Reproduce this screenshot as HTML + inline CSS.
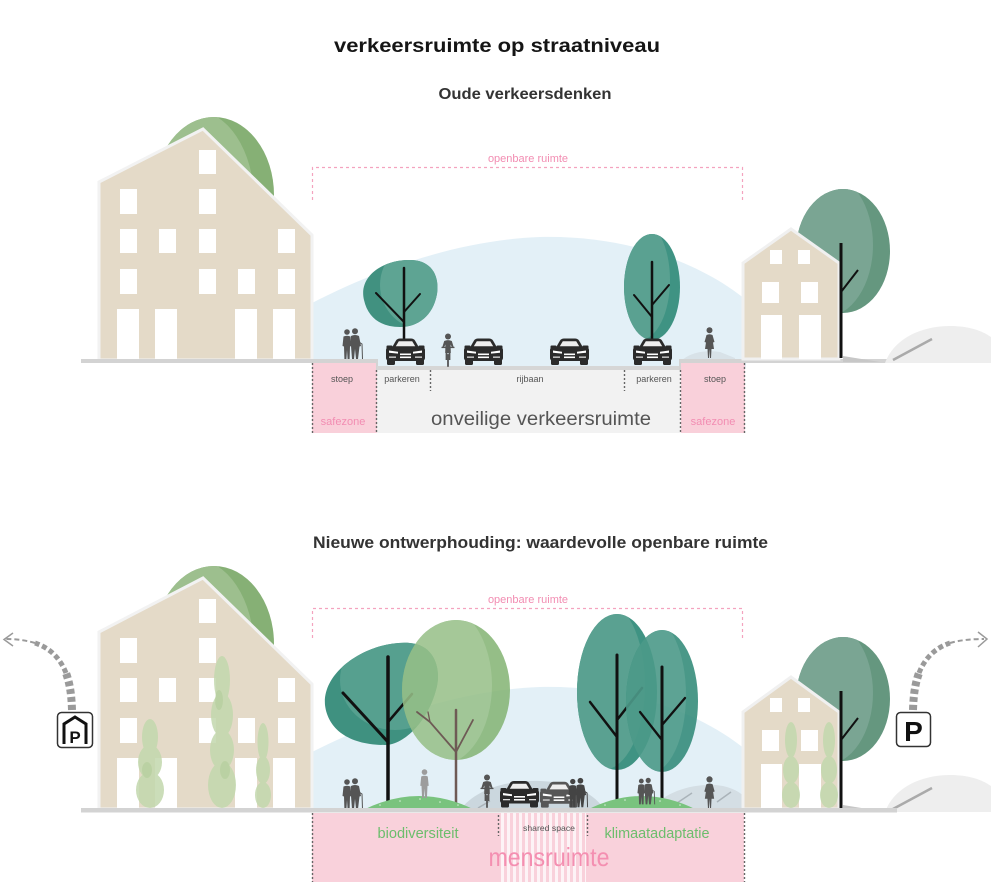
<!DOCTYPE html>
<html><head><meta charset="utf-8"><style>
html,body{margin:0;padding:0;background:#fff;overflow:hidden}
svg{display:block}
text{font-family:"Liberation Sans",Arial,sans-serif}
</style></head><body>
<svg width="991" height="885" viewBox="0 0 991 885" xmlns="http://www.w3.org/2000/svg">
<defs>
<symbol id="car" viewBox="0 0 43 27">
 <g fill="currentColor">
 <path d="M8,9.5 L12,2.5 Q13.5,0.5 16,0.5 L27,0.5 Q29.5,0.5 31,2.5 L35,9.5 Z"/>
 <rect x="2.5" y="7.5" width="6" height="3.5" rx="1"/>
 <rect x="34.5" y="7.5" width="6" height="3.5" rx="1"/>
 <rect x="2" y="9" width="39" height="14" rx="3"/>
 <rect x="3" y="20" width="8" height="7" rx="1.2"/>
 <rect x="32" y="20" width="8" height="7" rx="1.2"/>
 </g>
 <path d="M11.8,8.3 L14.8,3.3 L28.2,3.3 L31.2,8.3 Z" fill="#eeeeee"/>
 <path d="M5,12.5 L14,13.8 L14,15.6 L5,14.8 Z" fill="#fff"/>
 <path d="M38,12.5 L29,13.8 L29,15.6 L38,14.8 Z" fill="#fff"/>
 <rect x="16" y="15.5" width="11" height="1.6" fill="#fff"/>
 <rect x="16" y="18.5" width="11" height="1.6" fill="#fff"/>
 <rect x="5" y="18.5" width="7" height="1.3" fill="#ddd"/>
 <rect x="31" y="18.5" width="7" height="1.3" fill="#ddd"/>
</symbol>
<symbol id="couple" viewBox="0 0 22 31">
 <g fill="currentColor">
 <circle cx="5" cy="4" r="2.8"/>
 <path d="M1.5,8.5 Q5,7 8.5,8.5 L9.5,18 L8,18.5 L7.6,31 L5.6,31 L5,22 L4.4,31 L2.4,31 L2,18.5 L0.5,18 Z"/>
 <circle cx="13" cy="3.2" r="3"/>
 <path d="M9,8 Q13,6 17,8 L19,18 L17.5,18.5 L16,31 L14,31 L13,21 L12,31 L10,31 L9,18 Z"/>
 </g>
 <path d="M17,14 L20,16 L20.5,31" stroke="currentColor" stroke-width="1" fill="none"/>
</symbol>
<symbol id="woman" viewBox="0 0 11 31">
 <g fill="currentColor">
 <circle cx="5.5" cy="3.3" r="3"/>
 <path d="M2.5,8 Q5.5,6.5 8.5,8 L10.5,15 L9,15.5 L8.5,12 L10,22 L7.5,22 L7,31 L6,31 L5.5,22 L5,31 L4,31 L3.5,22 L1,22 L2.5,12 L2,15.5 L0.5,15 Z"/>
 </g>
</symbol>
<symbol id="person" viewBox="0 0 10 31">
 <g fill="currentColor">
 <circle cx="5" cy="3.3" r="3"/>
 <path d="M1.5,8 Q5,6.5 8.5,8 L9.5,18 L8.2,18 L7.6,31 L5.6,31 L5,21 L4.4,31 L2.4,31 L1.8,18 L0.5,18 Z"/>
 </g>
</symbol>
<symbol id="cyc" viewBox="0 0 14 34">
 <g fill="currentColor">
 <circle cx="7" cy="3.5" r="3"/>
 <path d="M3.2,8 Q7,6.3 10.8,8 L12.8,14.5 L11.2,15 L9.6,11.5 L9.8,20 L4.2,20 L4.4,11.5 L2.8,15 L1.2,14.5 Z"/>
 <rect x="0.5" y="13.8" width="13" height="1.3"/>
 <rect x="4.6" y="19" width="1.8" height="8"/>
 <rect x="7.6" y="19" width="1.8" height="8"/>
 <rect x="6.1" y="21" width="1.8" height="13" rx="0.9"/>
 </g>
</symbol>
<clipPath id="cL1"><ellipse cx="214" cy="195" rx="60" ry="78"/></clipPath>
<clipPath id="cL2"><ellipse cx="214" cy="644" rx="60" ry="78"/></clipPath>
<clipPath id="cR1"><ellipse cx="843" cy="251" rx="47" ry="62"/></clipPath>
<clipPath id="cR2"><ellipse cx="843" cy="699" rx="47" ry="62"/></clipPath>
<clipPath id="cTT"><ellipse cx="652" cy="287" rx="28" ry="53"/></clipPath>
<clipPath id="cTB"><path d="M364,300 C358,275 385,260 408,260 C430,259 440,274 437,294 C433,316 418,327 400,327 C381,327 368,318 364,300 Z"/></clipPath>
<clipPath id="cA"><path d="M325,705 C322,670 370,640 410,643 C435,645 442,670 436,690 C428,720 405,745 385,745 C350,745 328,730 325,705 Z"/></clipPath>
<clipPath id="cB"><ellipse cx="456" cy="690" rx="54" ry="70"/></clipPath>
<clipPath id="cC"><ellipse cx="617" cy="692" rx="40" ry="78"/></clipPath>
<clipPath id="cD"><ellipse cx="662" cy="701" rx="36" ry="71"/></clipPath>
<pattern id="stripes" x="500" y="0" width="6" height="10" patternUnits="userSpaceOnUse">
 <rect x="0" y="0" width="6" height="10" fill="#f9d1db"/>
 <rect x="1" y="0" width="3" height="10" fill="#fdf3f6"/>
</pattern>
</defs>

<!-- Headings -->
<text x="497" y="52" font-size="19" font-weight="bold" fill="#151515" text-anchor="middle" textLength="326" lengthAdjust="spacingAndGlyphs">verkeersruimte op straatniveau</text>
<text x="525" y="99" font-size="16" font-weight="bold" fill="#333" text-anchor="middle" textLength="173" lengthAdjust="spacingAndGlyphs">Oude verkeersdenken</text>
<text x="540.5" y="548" font-size="17" font-weight="bold" fill="#333" text-anchor="middle" textLength="455" lengthAdjust="spacingAndGlyphs">Nieuwe ontwerphouding: waardevolle openbare ruimte</text>

<!-- ================= TOP SCENE ================= -->
<text x="528" y="162" font-size="11" fill="#f28db2" text-anchor="middle">openbare ruimte</text>
<path d="M312.5,200 L312.5,167.5 L742.5,167.5 L742.5,200" fill="none" stroke="#f4a3bf" stroke-width="1.2" stroke-dasharray="3,3"/>

<path d="M312,303 C380,268 460,240 540,237 C625,235 700,262 746,300 L746,367 L312,367 Z" fill="#e3f0f7"/>
<path d="M680,362 C690,352 705,350 720,352 L735,358 L735,362 Z" fill="#d8e2e8"/>

<ellipse cx="214" cy="195" rx="60" ry="78" fill="#86b075"/>
<ellipse cx="194" cy="200" rx="60" ry="90" fill="#9dbf8e" clip-path="url(#cL1)"/>
<polygon points="99,182 203,129 312,235 312,360 99,360" fill="#e4dac8" stroke="#f2f2f2" stroke-width="3"/>
<g fill="#fff">
 <rect x="199" y="150" width="17" height="24"/>
 <rect x="120" y="189" width="17" height="25"/><rect x="199" y="189" width="17" height="25"/>
 <rect x="120" y="229" width="17" height="24"/><rect x="159" y="229" width="17" height="24"/><rect x="199" y="229" width="17" height="24"/><rect x="278" y="229" width="17" height="24"/>
 <rect x="120" y="269" width="17" height="25"/><rect x="199" y="269" width="17" height="25"/><rect x="238" y="269" width="17" height="25"/><rect x="278" y="269" width="17" height="25"/>
 <rect x="117" y="309" width="22" height="50"/><rect x="155" y="309" width="22" height="50"/><rect x="235" y="309" width="22" height="50"/><rect x="273" y="309" width="22" height="50"/>
</g>

<path d="M364,300 C358,275 385,260 408,260 C430,259 440,274 437,294 C433,316 418,327 400,327 C381,327 368,318 364,300 Z" fill="#419180"/>
<ellipse cx="425" cy="285" rx="45" ry="45" fill="#5ea493" clip-path="url(#cTB)"/>
<g stroke="#111" fill="none" stroke-linecap="round">
 <path d="M404,340 L404,268" stroke-width="2.5"/>
 <path d="M404,322 L376,293" stroke-width="2"/>
 <path d="M404,312 L420,294" stroke-width="2"/>
</g>
<ellipse cx="652" cy="287" rx="28" ry="53" fill="#3f9383"/>
<ellipse cx="640" cy="280" rx="30" ry="60" fill="#5aa191" clip-path="url(#cTT)"/>
<g stroke="#111" fill="none" stroke-linecap="round">
 <path d="M652,340 L652,262" stroke-width="2.5"/>
 <path d="M652,317 L634,295" stroke-width="2"/>
 <path d="M652,305 L669,285" stroke-width="2"/>
</g>

<rect x="312" y="363" width="65" height="70" fill="#f9d0da"/>
<rect x="681" y="363" width="64" height="70" fill="#f9d0da"/>
<rect x="377" y="370" width="304" height="63" fill="#f2f2f2"/>
<rect x="81" y="359" width="297" height="4" fill="#d3d3d3"/>
<rect x="376" y="359" width="2" height="11" fill="#d3d3d3"/>
<rect x="377" y="366" width="304" height="4" fill="#d6d6d6"/>
<rect x="679" y="359" width="2" height="11" fill="#d3d3d3"/>
<rect x="680" y="359" width="217" height="4" fill="#d3d3d3"/>
<g stroke="#666" stroke-width="1.4" stroke-dasharray="2,2">
 <path d="M312.5,363 L312.5,433"/><path d="M376.5,370 L376.5,433"/>
 <path d="M680.5,370 L680.5,433"/><path d="M744.5,363 L744.5,433"/>
 <path d="M430.5,370 L430.5,391"/><path d="M624.5,370 L624.5,391"/>
</g>
<g font-size="9" fill="#555" text-anchor="middle">
 <text x="342" y="382">stoep</text>
 <text x="402" y="382">parkeren</text>
 <text x="530" y="382">rijbaan</text>
 <text x="654" y="382">parkeren</text>
 <text x="715" y="382">stoep</text>
</g>
<g font-size="11" fill="#f28db2" text-anchor="middle">
 <text x="343" y="425">safezone</text>
 <text x="713" y="425">safezone</text>
</g>
<text x="541" y="425" font-size="19" fill="#555" text-anchor="middle" textLength="220" lengthAdjust="spacingAndGlyphs">onveilige verkeersruimte</text>

<use href="#car" x="384" y="338" width="43" height="27" color="#2b2b2b"/>
<use href="#car" x="462" y="338" width="43" height="27" color="#2b2b2b"/>
<use href="#car" x="548" y="338" width="43" height="27" color="#2b2b2b"/>
<use href="#car" x="631" y="338" width="43" height="27" color="#2b2b2b"/>
<use href="#couple" x="342" y="328" width="22" height="31" color="#555"/>
<use href="#cyc" x="441" y="333" width="14" height="34" color="#555"/>
<use href="#woman" x="704" y="327" width="11" height="31" color="#555"/>

<ellipse cx="843" cy="251" rx="47" ry="62" fill="#65977f"/>
<ellipse cx="825" cy="245" rx="48" ry="72" fill="#7aa593" clip-path="url(#cR1)"/>
<polygon points="743,263 791,229 839,263 839,359 743,359" fill="#e4dac8" stroke="#f0f0f0" stroke-width="3"/>
<g fill="#fff">
 <rect x="770" y="250" width="12" height="14"/><rect x="798" y="250" width="12" height="14"/>
 <rect x="762" y="282" width="17" height="21"/><rect x="801" y="282" width="17" height="21"/>
 <rect x="761" y="315" width="21" height="44"/><rect x="799" y="315" width="22" height="44"/>
</g>
<path d="M841,358 L841,243" stroke="#111" stroke-width="3"/>
<path d="M841,292 L858,270" stroke="#111" stroke-width="2"/>
<path d="M843,356 L880,362 L843,362 Z" fill="#c7c7c7"/>
<path d="M885,363 C895,336 925,326 950,326 C975,326 990,334 1000,345 L1000,363 Z" fill="#eeeeee"/>
<path d="M893,360 L932,339" stroke="#aaa" stroke-width="2.5"/>

<!-- ================= BOTTOM SCENE ================= -->
<text x="528" y="603" font-size="11" fill="#f28db2" text-anchor="middle">openbare ruimte</text>
<path d="M312.5,638 L312.5,608.5 L742.5,608.5 L742.5,638" fill="none" stroke="#f4a3bf" stroke-width="1.2" stroke-dasharray="3,3"/>

<path d="M312,752 C380,718 460,690 540,687 C625,685 700,712 746,750 L746,810 L312,810 Z" fill="#e3f0f7"/>
<path d="M460,810 C475,790 505,780 540,781 C575,782 595,795 605,810 Z" fill="#cbd7de"/>
<path d="M650,810 C665,792 690,784 715,785 C730,786 740,792 746,798 L746,810 Z" fill="#d4dee4"/>
<path d="M677,803 L692,793 M717,802 L731,792 M478,808 L490,801" stroke="#aab3b9" stroke-width="1.5"/>

<ellipse cx="214" cy="644" rx="60" ry="78" fill="#86b075"/>
<ellipse cx="194" cy="649" rx="60" ry="90" fill="#9dbf8e" clip-path="url(#cL2)"/>
<polygon points="99,632 203,578 312,684 312,809 99,809" fill="#e4dac8" stroke="#f2f2f2" stroke-width="3"/>
<g fill="#fff">
 <rect x="199" y="599" width="17" height="24"/>
 <rect x="120" y="638" width="17" height="25"/><rect x="199" y="638" width="17" height="25"/>
 <rect x="120" y="678" width="17" height="24"/><rect x="159" y="678" width="17" height="24"/><rect x="199" y="678" width="17" height="24"/><rect x="278" y="678" width="17" height="24"/>
 <rect x="120" y="718" width="17" height="25"/><rect x="199" y="718" width="17" height="25"/><rect x="238" y="718" width="17" height="25"/><rect x="278" y="718" width="17" height="25"/>
 <rect x="117" y="758" width="22" height="51"/><rect x="155" y="758" width="22" height="51"/><rect x="235" y="758" width="22" height="51"/><rect x="273" y="758" width="22" height="51"/>
</g>
<g fill="#c3d8ad" opacity="0.85">
 <ellipse cx="150" cy="737" rx="8" ry="18"/><ellipse cx="150" cy="762" rx="12" ry="17"/><ellipse cx="150" cy="790" rx="14" ry="18"/>
 <ellipse cx="222" cy="680" rx="8" ry="24"/><ellipse cx="222" cy="715" rx="11" ry="22"/><ellipse cx="222" cy="750" rx="12" ry="20"/><ellipse cx="222" cy="785" rx="14" ry="23"/>
 <ellipse cx="263" cy="742" rx="5.5" ry="19"/><ellipse cx="263" cy="770" rx="7" ry="14"/><ellipse cx="263" cy="795" rx="8" ry="13"/>
</g>
<g fill="#afcb96" opacity="0.5">
 <ellipse cx="147" cy="770" rx="5" ry="8"/><ellipse cx="219" cy="700" rx="4" ry="10"/><ellipse cx="225" cy="770" rx="5" ry="9"/>
</g>

<path d="M325,705 C322,670 370,640 410,643 C435,645 442,670 436,690 C428,720 405,745 385,745 C350,745 328,730 325,705 Z" fill="#3f9180"/>
<ellipse cx="395" cy="680" rx="55" ry="50" fill="#56a08f" clip-path="url(#cA)"/>
<g stroke="#111" fill="none" stroke-linecap="round">
 <path d="M388,809 L388,657" stroke-width="3.5"/>
 <path d="M388,742 L343,693" stroke-width="3"/>
 <path d="M388,722 L412,694" stroke-width="2.5"/>
</g>
<g opacity="0.86">
<ellipse cx="456" cy="690" rx="54" ry="70" fill="#84b474"/>
<ellipse cx="440" cy="685" rx="52" ry="80" fill="#97c088" clip-path="url(#cB)"/>
</g>
<g stroke="#6e5a55" fill="none" stroke-linecap="round">
 <path d="M456,809 L456,710" stroke-width="2.5"/>
 <path d="M456,752 L430,722 L417,712" stroke-width="1.8"/>
 <path d="M430,722 L428,712" stroke-width="1.3"/>
 <path d="M456,752 L473,720" stroke-width="1.8"/>
</g>
<ellipse cx="617" cy="692" rx="40" ry="78" fill="#3f9383"/>
<ellipse cx="603" cy="685" rx="42" ry="85" fill="#5aa191" clip-path="url(#cC)"/>
<g stroke="#111" fill="none" stroke-linecap="round">
 <path d="M617,809 L617,655" stroke-width="3"/>
 <path d="M617,737 L590,702" stroke-width="2.5"/>
 <path d="M617,720 L642,688" stroke-width="2.5"/>
</g>
<g opacity="0.9">
<ellipse cx="662" cy="701" rx="36" ry="71" fill="#378d7c"/>
<ellipse cx="650" cy="695" rx="36" ry="78" fill="#4c9a89" clip-path="url(#cD)"/>
</g>
<g stroke="#111" fill="none" stroke-linecap="round">
 <path d="M662,809 L662,667" stroke-width="3"/>
 <path d="M662,740 L640,712" stroke-width="2.3"/>
 <path d="M662,725 L685,698" stroke-width="2.3"/>
</g>
<path d="M363,810 Q419,782 475,810 Z" fill="#79c37e"/>
<path d="M587,810 Q642,782 697,810 Z" fill="#79c37e"/>
<g fill="#fff" opacity="0.7">
 <circle cx="380" cy="805" r="0.8"/><circle cx="400" cy="801" r="0.8"/><circle cx="420" cy="799" r="0.8"/><circle cx="440" cy="802" r="0.8"/><circle cx="458" cy="805" r="0.8"/>
 <circle cx="605" cy="805" r="0.8"/><circle cx="625" cy="800" r="0.8"/><circle cx="660" cy="801" r="0.8"/><circle cx="680" cy="805" r="0.8"/>
</g>

<use href="#car" x="538" y="781" width="42" height="27" color="#575757"/>
<use href="#car" x="498" y="780" width="43" height="28" color="#2b2b2b"/>
<use href="#couple" x="342" y="778" width="22" height="31" color="#555"/>
<use href="#person" x="419" y="769" width="11" height="29" color="#9c9c9c"/>
<use href="#cyc" x="480" y="774" width="14" height="34" color="#555"/>
<use href="#couple" x="568" y="777" width="21" height="31" color="#444"/>
<use href="#couple" x="637" y="775" width="19" height="32" color="#555"/>
<use href="#woman" x="703" y="776" width="13" height="32" color="#555"/>

<ellipse cx="843" cy="699" rx="47" ry="62" fill="#65977f"/>
<ellipse cx="825" cy="693" rx="48" ry="72" fill="#7aa593" clip-path="url(#cR2)"/>
<polygon points="743,712 791,677 839,712 839,809 743,809" fill="#e4dac8" stroke="#f0f0f0" stroke-width="3"/>
<g fill="#fff">
 <rect x="770" y="698" width="12" height="14"/><rect x="798" y="698" width="12" height="14"/>
 <rect x="762" y="730" width="17" height="21"/><rect x="801" y="730" width="17" height="21"/>
 <rect x="761" y="764" width="21" height="45"/><rect x="799" y="764" width="22" height="45"/>
</g>
<g fill="#c3d8ad" opacity="0.85">
 <ellipse cx="791" cy="740" rx="6" ry="18"/><ellipse cx="791" cy="770" rx="8" ry="14"/><ellipse cx="791" cy="795" rx="9" ry="13"/>
 <ellipse cx="829" cy="740" rx="6" ry="18"/><ellipse cx="829" cy="770" rx="8" ry="14"/><ellipse cx="829" cy="795" rx="9" ry="13"/>
</g>
<path d="M841,808 L841,691" stroke="#111" stroke-width="3"/>
<path d="M841,740 L858,718" stroke="#111" stroke-width="2"/>
<path d="M843,805 L880,811 L843,811 Z" fill="#c7c7c7"/>
<path d="M885,812 C895,785 925,775 950,775 C975,775 990,783 1000,794 L1000,812 Z" fill="#eeeeee"/>
<path d="M893,809 L932,788" stroke="#aaa" stroke-width="2.5"/>

<rect x="81" y="808" width="816" height="4.5" fill="#d3d3d3"/>
<rect x="312" y="813" width="432" height="69" fill="#f9d1db"/>
<rect x="500" y="813" width="86" height="69" fill="url(#stripes)"/>
<g stroke="#666" stroke-width="1.4" stroke-dasharray="2,2">
 <path d="M312.5,813 L312.5,882"/><path d="M744.5,813 L744.5,882"/>
 <path d="M498.5,815 L498.5,836"/><path d="M587.5,815 L587.5,836"/>
</g>
<text x="418" y="838" font-size="15" fill="#6cbd6c" text-anchor="middle" textLength="81" lengthAdjust="spacingAndGlyphs">biodiversiteit</text>
<text x="657" y="838" font-size="15" fill="#6cbd6c" text-anchor="middle" textLength="105" lengthAdjust="spacingAndGlyphs">klimaatadaptatie</text>
<text x="549" y="831" font-size="8.5" fill="#555" text-anchor="middle" textLength="52" lengthAdjust="spacingAndGlyphs">shared space</text>
<text x="549" y="866" font-size="26" fill="#f48fb1" text-anchor="middle" textLength="121" lengthAdjust="spacingAndGlyphs">mensruimte</text>

<g fill="none" stroke="#9a9a9a" stroke-dasharray="5,3">
 <path d="M72,710 C71.5,695 70,684 66,673" stroke-width="8"/>
 <path d="M66,673 C60,658 50,648 35,643" stroke-width="5"/>
 <path d="M35,643 C25,640 15,639 6,639" stroke-width="2"/>
 <path d="M913,710 C913.5,695 915,684 919,673" stroke-width="8"/>
 <path d="M919,673 C925,658 935,648 950,643" stroke-width="5"/>
 <path d="M950,643 C960,640 972,639 984,639" stroke-width="2"/>
</g>
<path d="M13,633 L4,639.5 L13,646" fill="none" stroke="#9a9a9a" stroke-width="1.5"/>
<path d="M978,632 L987,639 L978,647" fill="none" stroke="#9a9a9a" stroke-width="1.5"/>
<rect x="57.5" y="712.5" width="35" height="35" rx="4" fill="#fff" stroke="#333" stroke-width="1.5"/>
<path d="M64,744 L64,724 L75,717 L86,724 L86,744" fill="none" stroke="#111" stroke-width="3"/>
<text x="75" y="743" font-size="17" font-weight="bold" fill="#111" text-anchor="middle">P</text>
<rect x="896.5" y="712.5" width="34" height="34" rx="4" fill="#fff" stroke="#333" stroke-width="1.5"/>
<text x="913.5" y="741" font-size="28" font-weight="bold" fill="#111" text-anchor="middle">P</text>
</svg>
</body></html>
